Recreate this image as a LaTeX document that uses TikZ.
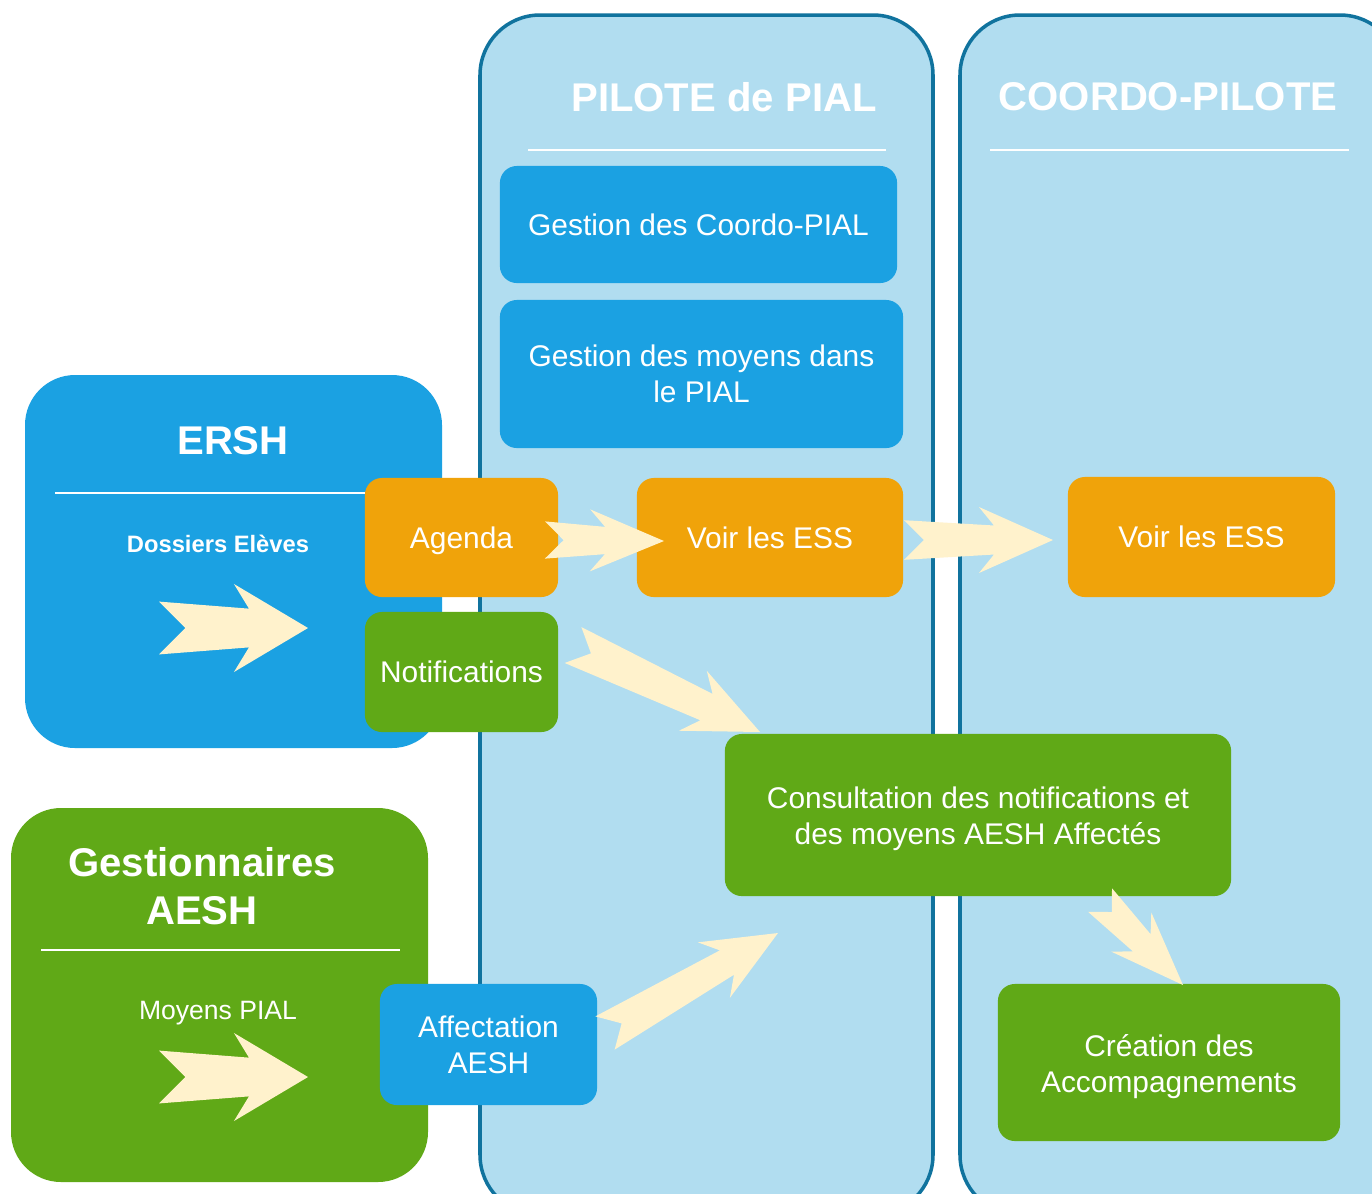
\documentclass[tikz,border=0pt]{standalone}
\usepackage{fontspec}
\setmainfont{Liberation Sans}
\usetikzlibrary{calc}
\definecolor{colfill}{HTML}{B1DDF0}
\definecolor{colline}{HTML}{10739E}
\definecolor{bleu}{HTML}{1BA1E2}
\definecolor{orangeb}{HTML}{F0A30A}
\definecolor{vert}{HTML}{60A917}
\definecolor{creme}{HTML}{FFF2CC}
\newcommand\lowered{\rule{0pt}{8.5pt}}
\tikzset{
  column/.style={fill=colfill, draw=colline, line width=1pt, rounded corners=0.6cm},
  group/.style={rounded corners=0.5cm},
  item/.style={rounded corners=0.17cm, text=white, align=center, inner sep=0pt,
    font=\fontsize{8.5}{10.25}\selectfont},
  oneline/.style={text height=0.215cm, text depth=0pt},
  title/.style={text=white, align=center, font=\fontsize{11.4}{13.65}\selectfont\bfseries},
  rule/.style={draw=white, line width=0.8pt},
  fat/.style={fill=creme}
}
% block arrow from #1 to #2, half width #3
\newcommand\fatarrow[3]{%
  \fill[fat] ($(#1)!{0.6*#3}!90:(#2)$) -- ($(#1)!{0.6*#3}!(#2)$) -- ($(#1)!{0.6*#3}!-90:(#2)$)
    -- ($(#2)!0.59cm!(#1)!{0.44*#3}!90:(#1)$) -- ($(#2)!0.74cm!(#1)!{#3}!90:(#1)$)
    -- (#2) -- ($(#2)!0.74cm!(#1)!{#3}!-90:(#1)$) -- ($(#2)!0.59cm!(#1)!{0.44*#3}!-90:(#1)$) -- cycle;}

\begin{document}
\begin{tikzpicture}[x=0.01cm, y=-0.01cm]
  \clip (0,0) rectangle (1372,1193);
  \fill[white] (0,0) rectangle (1372,1193);

  % columns
  \draw[column] (480,15) rectangle (933,1215);
  \draw[column] (960,15) rectangle (1400,1215);
  \node[title] (pilote) at (724,97) {PILOTE de PIAL};
  \node[title] (coordopilote) at (1168,97) {COORDO-PILOTE};
  \draw[rule] (528,150) -- (886,150);
  \draw[rule] (990,150) -- (1349,150);

  % left groups
  \fill[bleu, group] (25,375) rectangle (442,748);
  \node[title] (ersh) at (233,441) {ERSH};
  \draw[rule] (55,493) -- (380,493);
  \node[text=white, font=\fontsize{6.75}{8}\selectfont\bfseries] (dossiers) at (218,544) {Dossiers Elèves};

  \fill[vert, group] (11,808) rectangle (428,1182);
  \node[title] (gestionnaires) at (202,886) {Gestionnaires\\ AESH};
  \draw[rule] (41,950) -- (400,950);
  \node[text=white, font=\fontsize{7.55}{9}\selectfont] (moyenspial) at (218,1013) {Moyens PIAL};

  % boxes
  \node[item, oneline, fill=bleu, minimum width=3.97cm, minimum height=1.17cm] (gcoordo) at (698.5,224.5) {Gestion des Coordo-PIAL};
  \node[item, fill=bleu, minimum width=4.03cm, minimum height=1.48cm] (gmoyens) at (701.5,374) {Gestion des moyens dans\\le PIAL};
  \node[item, oneline, fill=orangeb, minimum width=1.93cm, minimum height=1.19cm] (agenda) at (461.5,537.5) {Agenda};
  \node[item, oneline, fill=orangeb, minimum width=2.66cm, minimum height=1.19cm] (voir) at (770,537.5) {Voir les ESS};
  \node[item, oneline, fill=orangeb, minimum width=2.67cm, minimum height=1.2cm] (voirc) at (1201.5,537) {Voir les ESS};
  \node[item, oneline, fill=vert, minimum width=1.93cm, minimum height=1.2cm] (notif) at (461.5,672) {Notifications};
  \node[item, fill=vert, minimum width=5.06cm, minimum height=1.62cm] (consult) at (978,815) {\lowered Consultation des notifications et\\des moyens AESH Affectés};
  \node[item, fill=bleu, minimum width=2.17cm, minimum height=1.21cm] (affect) at (488.5,1044.5) {Affectation\\AESH};
  \node[item, fill=vert, minimum width=3.42cm, minimum height=1.57cm] (creation) at (1169,1062.5) {\lowered Création des\\Accompagnements};

  % arrows
  \coordinate (d1) at (159,628);  \coordinate (d2) at (308,628);
  \coordinate (m1) at (159,1077); \coordinate (m2) at (308,1077);
  \coordinate (ag1) at (545,540); \coordinate (ag2) at (664,541);
  \coordinate (vo1) at (904,540); \coordinate (vo2) at (1053,540);
  \coordinate (no1) at (573,645); \coordinate (no2) at (760,732);
  \coordinate (af1) at (605,1033); \coordinate (af2) at (778,933);
  \coordinate (co1) at (1100,900); \coordinate (co2) at (1183,985);
  \fatarrow{d1}{d2}{0.44cm}
  \fatarrow{m1}{m2}{0.44cm}
  \fatarrow{ag1}{ag2}{0.31cm}
  \fatarrow{vo1}{vo2}{0.33cm}
  \fatarrow{no1}{no2}{0.33cm}
  \fatarrow{af1}{af2}{0.32cm}
  \fatarrow{co1}{co2}{0.28cm}
\end{tikzpicture}
\end{document}
